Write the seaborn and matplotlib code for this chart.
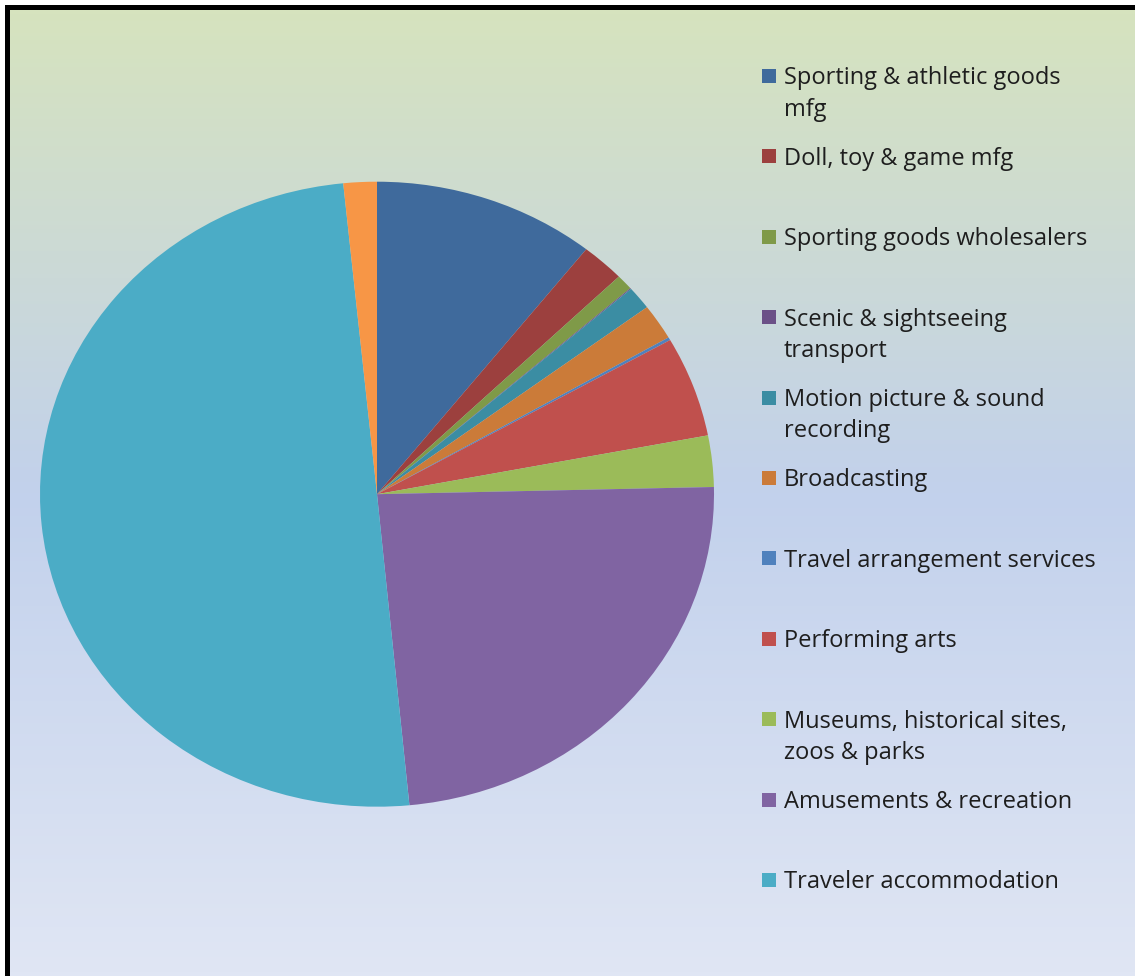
import numpy as np
import pandas as pd
import seaborn as sns
import matplotlib.pyplot as plt
from matplotlib.colors import LinearSegmentedColormap
from matplotlib.patches import Rectangle


industries = [
    "Sporting & athletic goods\nmfg",
    "Doll, toy & game mfg",
    "Sporting goods wholesalers",
    "Scenic & sightseeing\ntransport",
    "Motion picture & sound\nrecording",
    "Broadcasting",
    "Travel arrangement services",
    "Performing arts",
    "Museums, historical sites,\nzoos & parks",
    "Amusements & recreation",
    "Traveler accommodation",
    "Other",
]
shares = [10.67, 2.08, 0.80, 0.05, 1.20, 1.85, 0.15, 5.20, 2.65, 23.85, 49.97, 1.60]
colors = [
    "#3F6A9C", "#9C403E", "#7F9A48", "#6B5087", "#3B8DA3", "#CB7B39",
    "#4F81BD", "#C0504D", "#9BBB59", "#8064A2", "#4BACC6", "#F79646",
]
# only the first eleven slices have a legend entry
n_legend = 11

df = pd.DataFrame({"industry": industries, "share": shares, "color": colors})

sns.set_theme(style="white")
plt.rcParams['font.family'] = ['Open Sans', 'DejaVu Sans']

W, H = 1135, 976
fig = plt.figure(figsize=(W / 100, H / 100), dpi=100)
fig.patch.set_facecolor("white")

# gradient chart area
bg = fig.add_axes([10 / W, 0, 1 - 10 / W, (H - 10) / H])
grad = LinearSegmentedColormap.from_list(
    "bg", [(0.0, "#D6E3BE"), (0.5, "#C2D1EC"), (1.0, "#E0E6F4")])
bg.imshow(np.linspace(0, 1, 256).reshape(-1, 1), aspect="auto", cmap=grad,
          extent=[0, 1, 0, 1])
bg.axis("off")

# black frame (top and left)
fig.add_artist(Rectangle((5 / W, 0), 5 / W, (H - 5) / H, transform=fig.transFigure,
                         facecolor="black", edgecolor="none"))
fig.add_artist(Rectangle((5 / W, (H - 10) / H), 1, 5 / H, transform=fig.transFigure,
                         facecolor="black", edgecolor="none"))

# pie (slightly wider than tall, as in the original)
ax = fig.add_axes([40 / W, (H - 806.7) / H, 674 / W, 625 / H])
ax.pie(df["share"], colors=df["color"], startangle=90, counterclock=False,
       wedgeprops=dict(linewidth=0))
ax.set_aspect("auto")
ax.set_xlim(-1, 1)
ax.set_ylim(-1, 1)
ax.axis("off")

# legend
for i, row in df.head(n_legend).iterrows():
    yc = 76 + 80.4 * i
    fig.add_artist(Rectangle((762 / W, 1 - (yc + 7) / H), 14 / W, 14 / H,
                             transform=fig.transFigure, facecolor=row["color"],
                             edgecolor="none"))
    for j, line in enumerate(row["industry"].split("\n")):
        fig.text(784 / W, 1 - (yc + 8.5 + 31 * j) / H, line, va="baseline",
                 ha="left", fontsize=17, color="#1E1E1E")

fig.savefig("out.png", dpi=100)
